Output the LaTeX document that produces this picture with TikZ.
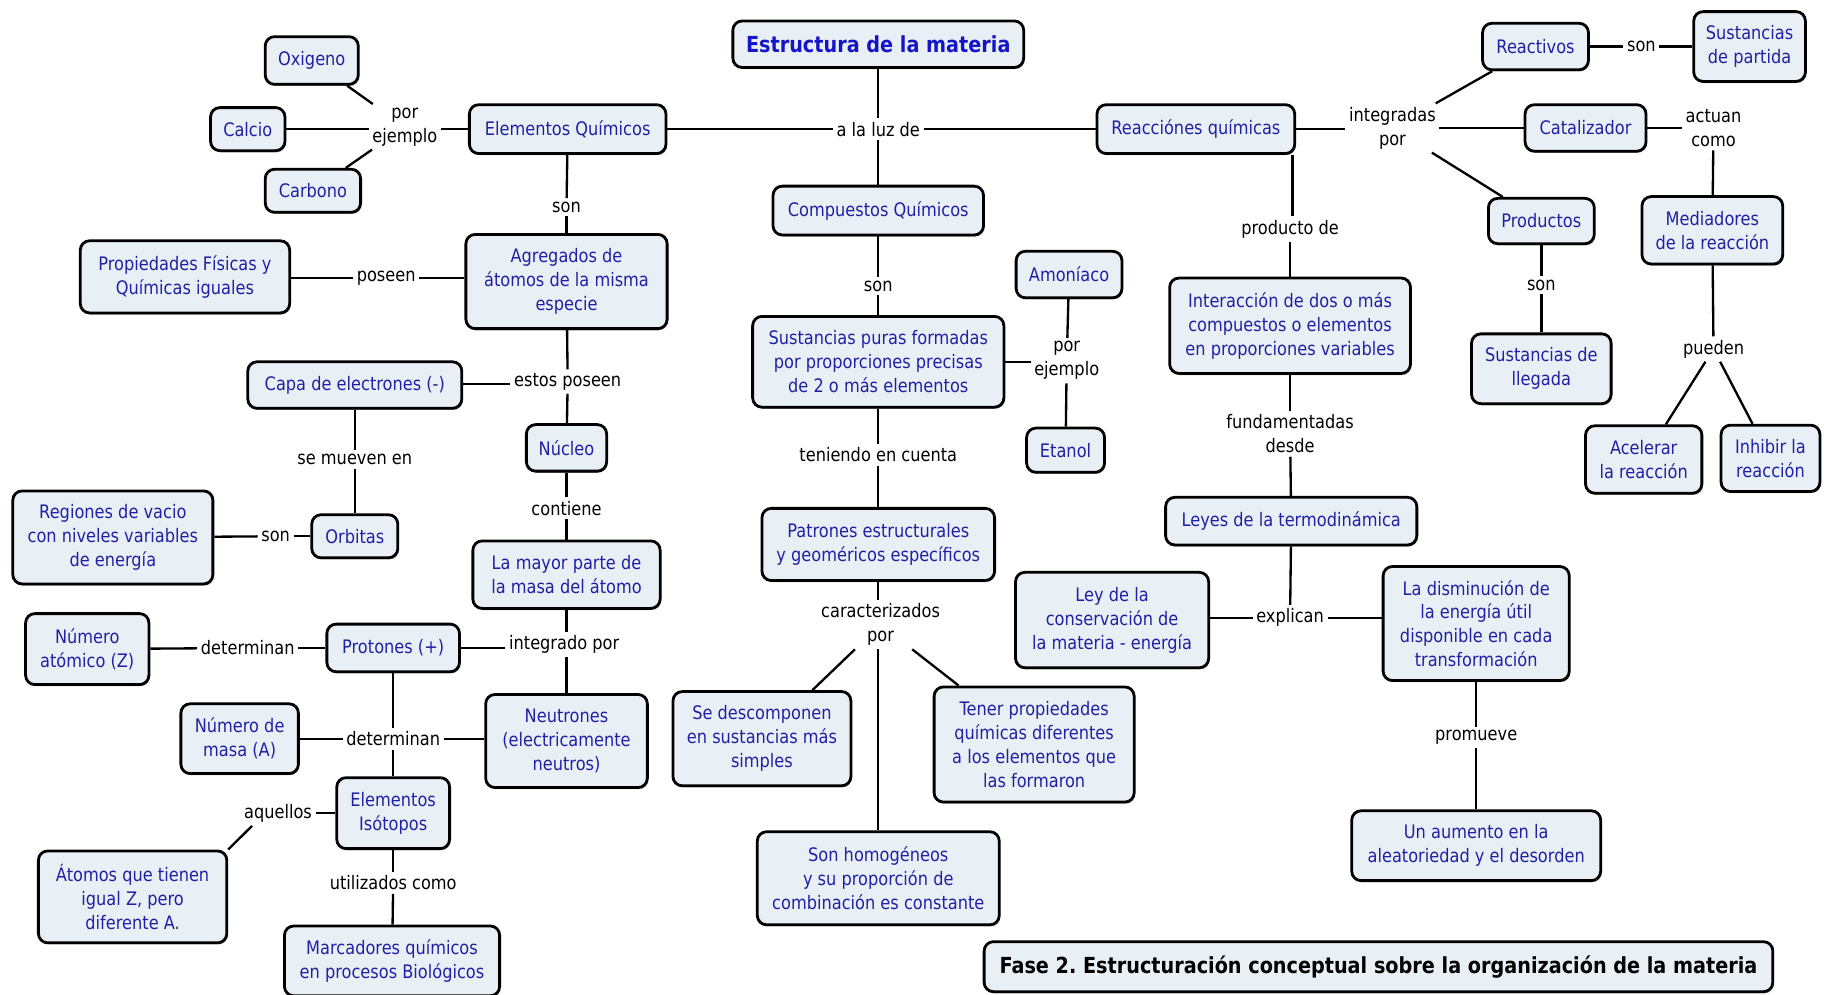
\documentclass[tikz,border=0pt]{standalone}
\usepackage{fontspec}
\setmainfont[FakeStretch=0.87]{DejaVu Sans}
\usetikzlibrary{shadows}
\frenchspacing
\definecolor{boxfill}{RGB}{233,240,245}
\definecolor{boxtext}{RGB}{32,32,165}
\definecolor{titletext}{RGB}{20,20,200}
\tikzset{
  concept/.style={draw=black, line width=2.4pt, rounded corners=8pt, fill=boxfill,
    text=boxtext, align=center, font=\fontsize{16}{20.5}\selectfont, inner sep=2pt,
    drop shadow={shadow xshift=0.8pt,shadow yshift=-1.4pt,fill=black!70}},
  lbl/.style={text=black, align=center, font=\fontsize{16}{20.5}\selectfont, inner sep=3pt},
  link/.style={line width=2pt, draw=black},
}
\begin{document}
\begin{tikzpicture}[x=1pt,y=-1pt]
\clip (0,0) rectangle (1568,855);
\fill[white] (0,0) rectangle (1568,855);

% ---------- concepts ----------
\node[concept, minimum width=250pt, minimum height=40pt, text=titletext,
  font=\bfseries\fontsize{19}{22}\selectfont] (title) at (755,38) {Estructura de la materia};
\node[concept, minimum width=80pt, minimum height=41pt] (oxi) at (268,52) {Oxigeno};
\node[concept, minimum width=64pt, minimum height=37pt] (cal) at (213,111) {Calcio};
\node[concept, minimum width=82pt, minimum height=37pt] (car) at (269,164) {Carbono};
\node[concept, minimum width=169pt, minimum height=42pt] (elem) at (488,111) {Elementos Químicos};
\node[concept, minimum width=170pt, minimum height=42pt] (reac) at (1028,111) {Reacciónes químicas};
\node[concept, minimum width=91pt, minimum height=40pt] (reactivos) at (1320,40) {Reactivos};
\node[concept, minimum width=96pt, minimum height=60pt] (spart) at (1504,40) {Sustancias\\de partida};
\node[concept, minimum width=104pt, minimum height=40pt] (cata) at (1363,110) {Catalizador};
\node[concept, minimum width=91pt, minimum height=39pt] (prod) at (1325,190) {Productos};
\node[concept, minimum width=121pt, minimum height=58pt] (medi) at (1472,198) {Mediadores\\de la reacción};
\node[concept, minimum width=120pt, minimum height=60pt] (sllega) at (1325,317) {Sustancias de\\llegada};
\node[concept, minimum width=100pt, minimum height=58pt] (acel) at (1413,395) {Acelerar\\la reacción};
\node[concept, minimum width=85pt, minimum height=57pt] (inhib) at (1522,394) {Inhibir la\\reacción};
\node[concept, minimum width=181pt, minimum height=42pt] (comp) at (755,181) {Compuestos Químicos};
\node[concept, minimum width=216pt, minimum height=78pt] (spuras) at (755,311) {Sustancias puras formadas\\por proporciones precisas\\de 2 o más elementos};
\node[concept, minimum width=91pt, minimum height=40pt] (amon) at (919,236) {Amoníaco};
\node[concept, minimum width=67pt, minimum height=38pt] (etanol) at (916,387) {Etanol};
\node[concept, minimum width=200pt, minimum height=62pt] (patr) at (755,468) {Patrones estructurales\\y geoméricos específicos};
\node[concept, minimum width=153pt, minimum height=81pt] (desc) at (655,635) {Se descomponen\\en sustancias más\\simples};
\node[concept, minimum width=172pt, minimum height=99pt] (tener) at (889,640) {Tener propiedades\\químicas diferentes\\a los elementos que\\las formaron};
\node[concept, minimum width=208pt, minimum height=80pt] (homo) at (755,755) {Son homogéneos\\y su proporción de\\combinación es constante};
\node[concept, minimum width=173pt, minimum height=81pt] (agreg) at (487,242) {Agregados de\\átomos de la misma\\especie};
\node[concept, minimum width=180pt, minimum height=62pt] (propf) at (159,238) {Propiedades Físicas y\\Químicas iguales};
\node[concept, minimum width=184pt, minimum height=40pt] (capa) at (305,331) {Capa de electrones (-)};
\node[concept, minimum width=69pt, minimum height=40pt] (nucleo) at (487,385) {Núcleo};
\node[concept, minimum width=74pt, minimum height=37pt] (orb) at (305,461) {Orbitas};
\node[concept, minimum width=172pt, minimum height=80pt] (regio) at (97,462) {Regiones de vacio\\con niveles variables\\de energía};
\node[concept, minimum width=161pt, minimum height=58pt] (mayor) at (487,494) {La mayor parte de\\la masa del átomo};
\node[concept, minimum width=114pt, minimum height=41pt] (prot) at (338,557) {Protones (+)};
\node[concept, minimum width=106pt, minimum height=61pt] (natom) at (75,558) {Número\\atómico (Z)};
\node[concept, minimum width=139pt, minimum height=80pt] (neut) at (487,637) {Neutrones\\(electricamente\\neutros)};
\node[concept, minimum width=101pt, minimum height=60pt] (nmasa) at (206,635) {Número de\\masa (A)};
\node[concept, minimum width=97pt, minimum height=61pt] (isot) at (338,699) {Elementos\\Isótopos};
\node[concept, minimum width=162pt, minimum height=79pt] (atomos) at (114,771) {Átomos que tienen\\igual Z, pero\\diferente A.};
\node[concept, minimum width=185pt, minimum height=60pt] (marc) at (337,826) {Marcadores químicos\\en procesos Biológicos};
\node[concept, minimum width=207pt, minimum height=82pt] (interac) at (1109,280) {Interacción de dos o más\\compuestos o elementos\\en proporciones variables};
\node[concept, minimum width=216pt, minimum height=41pt] (leyes) at (1110,448) {Leyes de la termodinámica};
\node[concept, minimum width=166pt, minimum height=82pt] (leycons) at (956,533) {Ley de la\\conservación de\\la materia - energía};
\node[concept, minimum width=160pt, minimum height=98pt] (dismin) at (1269,536) {La disminución de\\la energía útil\\disponible en cada\\transformación};
\node[concept, minimum width=214pt, minimum height=60pt] (aumento) at (1269,727) {Un aumento en la\\aleatoriedad y el desorden};
\node[concept, minimum width=678pt, minimum height=43pt, text=black,
  font=\bfseries\fontsize{19}{22}\selectfont] (fase) at (1185,831) {Fase 2. Estructuración conceptual sobre la organización de la materia};

% ---------- linking phrases ----------
\node[lbl] (pe1) at (348,109) {por\\ejemplo};
\node[lbl] (alaluz) at (755,111) {a la luz de};
\node[lbl] (intpor) at (1197,110) {integradas\\por};
\node[lbl] (son1) at (1411,40) {son};
\node[lbl] (actco) at (1473,110) {actuan\\como};
\node[lbl] (son2) at (1325,245) {son};
\node[lbl] (pueden) at (1473,300) {pueden};
\node[lbl] (son3) at (755,246) {son};
\node[lbl] (pe2) at (917,310) {por\\ejemplo};
\node[lbl] (tenien) at (755,391) {teniendo en cuenta};
\node[lbl] (caract) at (757,537) {caracterizados\\por};
\node[lbl] (son4) at (487,178) {son};
\node[lbl] (poseen) at (332,239) {poseen};
\node[lbl] (estos) at (488,328) {estos poseen};
\node[lbl] (semuev) at (305,395) {se mueven en};
\node[lbl] (son5) at (237,461) {son};
\node[lbl] (contiene) at (487,437) {contiene};
\node[lbl] (intpor2) at (485,554) {integrado por};
\node[lbl] (det1) at (213,557) {determinan};
\node[lbl] (det2) at (338,635) {determinan};
\node[lbl] (aquellos) at (239,699) {aquellos};
\node[lbl] (utiliz) at (338,759) {utilizados como};
\node[lbl] (producto) at (1109,197) {producto de};
\node[lbl] (fund) at (1109,373) {fundamentadas\\desde};
\node[lbl] (explican) at (1109,531) {explican};
\node[lbl] (promueve) at (1269,634) {promueve};
\coordinate (px) at (1111,0);

% ---------- connectors ----------
\draw[link] (title) -- (alaluz);
\draw[link] (alaluz) -- (comp);
\draw[link] (elem) -- (alaluz);
\draw[link] (alaluz) -- (reac);
\draw[link] (elem) -- (elem -| pe1.east);
\draw[link] (pe1) -- (oxi);
\draw[link] (cal) -- (cal -| pe1.west);
\draw[link] (pe1) -- (car);
\draw[link] (elem) -- (son4);
\draw[link] (son4) -- (agreg);
\draw[link] (agreg.west |- poseen) -- (poseen);
\draw[link] (poseen) -- (propf.east |- poseen);
\draw[link] (agreg) -- (estos);
\draw[link] (capa.east |- 0,330) -- (estos.west |- 0,330);
\draw[link] (estos) -- (nucleo);
\draw[link] (capa) -- (semuev);
\draw[link] (semuev) -- (orb);
\draw[link] (orb) -- (son5);
\draw[link] (son5) -- (regio);
\draw[link] (nucleo) -- (contiene);
\draw[link] (contiene) -- (mayor);
\draw[link] (mayor.south) -- (intpor2.north -| mayor.south);
\draw[link] (intpor2.south -| neut.north) -- (neut.north);
\draw[link] (prot) -- (prot -| intpor2.west);
\draw[link] (prot) -- (det1);
\draw[link] (det1) -- (natom);
\draw[link] (prot) -- (det2);
\draw[link] (nmasa) -- (det2);
\draw[link] (det2) -- (det2 -| neut.west);
\draw[link] (det2) -- (isot);
\draw[link] (isot) -- (aquellos);
\draw[link] ([xshift=10pt]aquellos.south west) -- (atomos.north east);
\draw[link] (isot) -- (utiliz);
\draw[link] (utiliz) -- (marc);
\draw[link] (comp) -- (son3);
\draw[link] (son3) -- (spuras);
\draw[link] (spuras) -- (pe2.west |- spuras);
\draw[link] (amon) -- (pe2);
\draw[link] (pe2) -- (etanol);
\draw[link] (spuras) -- (tenien);
\draw[link] (tenien) -- (patr);
\draw[link] (patr) -- (caract.north -| patr);
\draw[link] (caract) -- (desc);
\draw[link] (caract) -- (tener);
\draw[link] (caract.south -| homo) -- (homo);
\draw[link] (reac) -- (reac -| intpor.west);
\draw[link] (intpor) -- (reactivos);
\draw[link] (intpor) -- (cata);
\draw[link] (intpor) -- (prod);
\draw[link] (reactivos) -- (son1);
\draw[link] (son1) -- (spart);
\draw[link] (cata) -- (actco);
\draw[link] (actco) -- (medi);
\draw[link] (medi) -- (pueden);
\draw[link] (pueden) -- (acel);
\draw[link] (pueden) -- (inhib);
\draw[link] (prod) -- (son2);
\draw[link] (son2) -- (sllega);
\draw[link] (producto.north -| px) -- (reac.south -| px);
\draw[link] (producto) -- (interac);
\draw[link] (interac) -- (fund);
\draw[link] (fund) -- (leyes);
\draw[link] (leyes) -- (explican);
\draw[link] (explican) -- (explican -| leycons.east);
\draw[link] (explican) -- (explican -| dismin.west);
\draw[link] (dismin) -- (promueve);
\draw[link] (promueve) -- (aumento);
\end{tikzpicture}
\end{document}
